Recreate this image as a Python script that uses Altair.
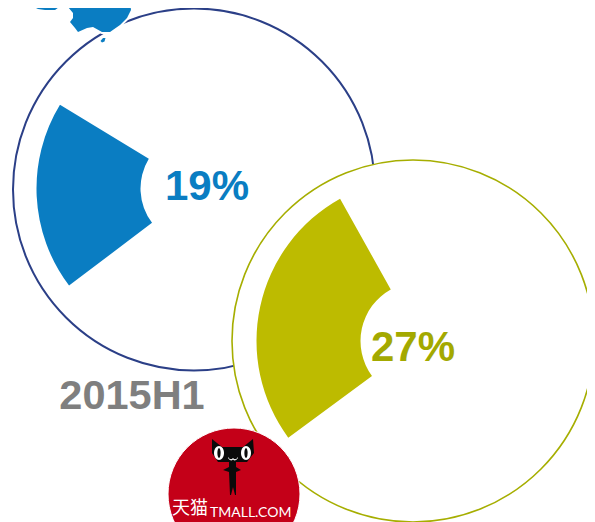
import altair as alt
import pandas as pd

# Reference-pixel frame of the picture (the page leaves 579px of width for the chart)
X_DOMAIN = [8, 587]
Y_DOMAIN = [522, 8]

ring_names = ["2014", "2015H1"]
ring_x = [194, 413]
ring_y = [189.5, 341]
ring_r = [181, 181]

share_labels = ["19%", "27%"]
share_values = [19, 27]
share_start = [64.7, 64.9]
sector_x = [197.5, 419.5]
sector_y = [188.5, 341]
sector_outer = [161, 163]
sector_inner = [57, 59]
label_x = [207, 413]
label_y = [187, 348]

BLUE = "#0A7DC2"
NAVY = "#2B3F87"
OLIVE = "#BDBB00"
OLIVE_LINE = "#A6AE00"
OLIVE_TEXT = "#A3A900"
GREY = "#7F7F7F"
RED = "#C40018"

MAP_PATH = ("M-60,-25 L-58,-10 L-50,-5 L-42,-1 L-35,0 L-25,0 L-18,-5 L-12,-3 L-7,3 L-7,8 "
            "L-10,12 L-5,18 L-2,22 L7,18 L13,17 L22,22 L30,22 L40,15 L47,8 L51,0 L48,-25 Z")
ISLET_PATH = "M-2.5,1 L0,-2 L2.5,-2 L1.5,1.5 L-1,2.5 Z"
CAT_PATH = ("M-21,-19 L-11,-11 L10,-11 L20,-19 L21,-5 L14,4 L3,4 L3,9 L8,12 L3,14 L3,37 L2,37 "
            "L0,29 L-2,37 L-3,37 L-4,14 L-10,12 L-4,9 L-4,4 L-15,4 L-21,-5 Z")
EYE_PATH = "M-5,0 A5,7 0 1,1 5,0 A5,7 0 1,1 -5,0 Z"
PUPIL_PATH = "M-1.6,0 A1.6,5 0 1,1 1.6,0 A1.6,5 0 1,1 -1.6,0 Z"
SMILE_PATH = "M-5,-1 Q-2.5,3 0,0 Q2.5,3 5,-1 L5,0 Q2.5,4 0,1.5 Q-2.5,4 -5,0 Z"

x_scale = alt.Scale(domain=X_DOMAIN, nice=False, zero=False)
y_scale = alt.Scale(domain=Y_DOMAIN, nice=False, zero=False)
X = alt.X("x:Q", scale=x_scale, axis=None)
Y = alt.Y("y:Q", scale=y_scale, axis=None)


def disc(x, y, r, fill, stroke=None, sw=0):
    kw = dict(filled=True, fill=fill, opacity=1, strokeWidth=sw, stroke=stroke or fill)
    return (
        alt.Chart(pd.DataFrame({"x": [x], "y": [y], "s": [(2 * r) ** 2]}))
        .mark_point(shape="circle", **kw)
        .encode(x=X, y=Y, size=alt.Size("s:Q", scale=None, legend=None))
    )


def sector(i, color):
    df = pd.DataFrame({
        "x": [sector_x[i]], "y": [sector_y[i]],
        "a": [share_start[i]], "b": [share_start[i] + share_values[i]],
        "r": [sector_outer[i]], "r2": [sector_inner[i]],
    })
    return alt.Chart(df).mark_arc(color=color, opacity=1).encode(
        x=X, y=Y,
        theta=alt.Theta("a:Q", scale=alt.Scale(domain=[0, 100], range=[0, 6.283185307])),
        theta2="b:Q",
        radius=alt.Radius("r:Q", scale=None),
        radius2="r2:Q",
    )


def label(text, x, y, size, color, font="Liberation Sans", weight="bold", align="center"):
    return (
        alt.Chart(pd.DataFrame({"x": [x], "y": [y], "t": [text]}))
        .mark_text(font=font, fontSize=size, fontWeight=weight, color=color,
                   align=align, baseline="middle")
        .encode(x=X, y=Y, text="t:N")
    )


def glyph(path, x, y, fill, stroke=None, sw=0):
    return (
        alt.Chart(pd.DataFrame({"x": [x], "y": [y]}))
        .mark_point(shape=path, size=4, filled=True, fill=fill, opacity=1,
                    stroke=stroke or fill, strokeWidth=sw, strokeJoin="round")
        .encode(x=X, y=Y)
    )


layers = [
    disc(ring_x[0], ring_y[0], ring_r[0], "#FFFFFF", NAVY, 2),
    sector(0, BLUE),
    label(share_labels[0], label_x[0], label_y[0], 42, BLUE),
    glyph(MAP_PATH, 80, 10, "#FFFFFF", "#FFFFFF", 4),
    glyph(MAP_PATH, 80, 10, BLUE),
    glyph(ISLET_PATH, 103, 40, BLUE),
    disc(ring_x[1], ring_y[1], ring_r[1], "#FFFFFF", OLIVE_LINE, 1.6),
    sector(1, OLIVE),
    label(share_labels[1], label_x[1], label_y[1], 42, OLIVE_TEXT),
    label(ring_names[1], 132, 397, 41.5, GREY),
    disc(234, 494, 66, RED, "#FFFFFF", 1),
    glyph(CAT_PATH, 233, 458, "#0A0A0A"),
    glyph(EYE_PATH, 219, 453, "#FFFFFF"),
    glyph(EYE_PATH, 246, 453, "#FFFFFF"),
    glyph(PUPIL_PATH, 219, 453, "#0A0A0A"),
    glyph(PUPIL_PATH, 246, 453, "#0A0A0A"),
    glyph(SMILE_PATH, 233, 458, "#FFFFFF"),
    label("天猫", 172, 509, 18, "#FFFFFF", font="Noto Sans CJK SC", weight="normal", align="left"),
    label("TMALL.COM", 210, 513, 14, "#FFFFFF", font="Lato", weight="normal", align="left"),
]

chart = (
    alt.layer(*layers)
    .resolve_scale(x="shared", y="shared")
    .properties(width=579, height=514, padding=0,
                autosize=alt.AutoSizeParams(type="none"))
    .configure_view(stroke=None)
)

chart.save("out.html", embed_options={"renderer": "svg", "actions": False})
